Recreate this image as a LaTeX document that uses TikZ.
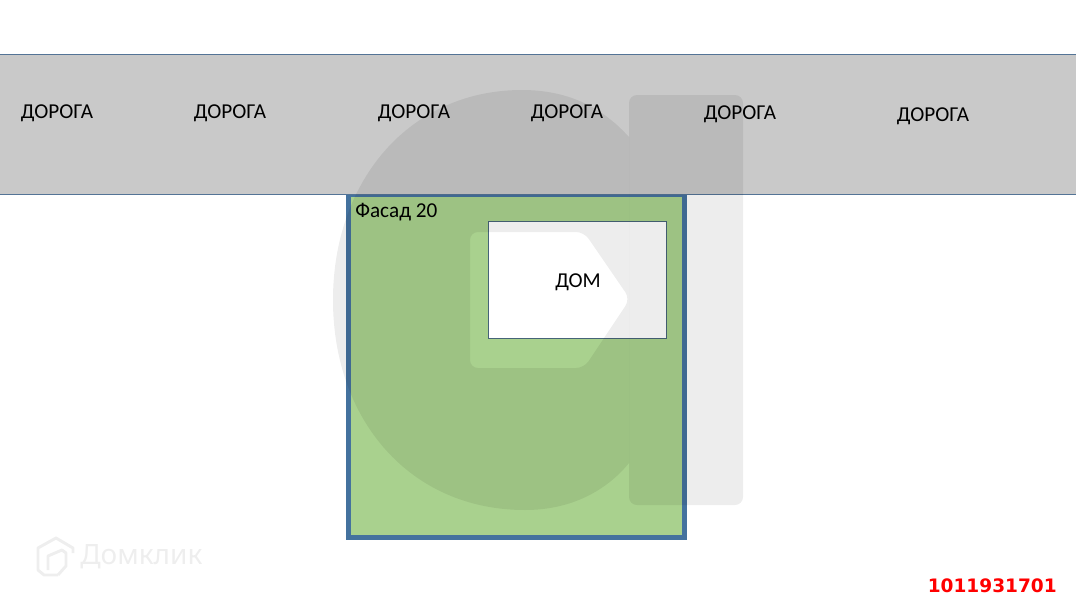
\documentclass[tikz,border=0pt]{standalone}
\usepackage{fontspec}
\setmainfont{Carlito}
\newfontfamily\numfont{DejaVu Sans}
\newfontfamily\logofont{Noto Sans}
\usepackage{xcolor}
\definecolor{roadgray}{RGB}{201,201,201}
\definecolor{roadline}{RGB}{84,116,150}
\definecolor{houseline}{RGB}{70,100,120}
\definecolor{plotgreen}{RGB}{169,209,142}
\definecolor{plotline}{RGB}{68,114,158}
\definecolor{logogray}{RGB}{238,238,238}
\begin{document}
\begin{tikzpicture}[x=0.75pt,y=-0.75pt,
    roadlabel/.style={font=\fontsize{15.9}{18}\selectfont,text=black},
    wmark/.style={fill=black,fill opacity=0.07,even odd rule}]
        \useasboundingbox (0,0) rectangle (1076,601);
        \node[draw=plotline,line width=3.75pt,fill=plotgreen,minimum width=252pt,minimum height=257.6pt,inner sep=0pt] (plot) at (516.5,366.25) {};
        \node[draw=roadline,line width=0.6pt,fill=roadgray,minimum width=813pt,minimum height=105pt,inner sep=0pt] (road) at (538,124) {};
        \node[draw=houseline,line width=0.6pt,fill=white,minimum width=133.8pt,minimum height=87.75pt,inner sep=0pt] (house) at (577.5,279.8) {};
        \fill[wmark] (629,137) .. controls (600,105) and (565,90) .. (522,90)
            .. controls (410,90) and (333,180) .. (333,300)
            .. controls (333,420) and (410,510) .. (525,510)
            .. controls (572,510) and (607,490) .. (629,463) -- cycle
            [rounded corners=6pt] (470,232) -- (584,232) -- (630,299) -- (584,368) -- (470,368) -- cycle;
        \fill[wmark,rounded corners=6pt] (629,95) rectangle (743,505);
        \node[roadlabel] (r1) at (57,113) {ДОРОГА};
        \node[roadlabel] (r2) at (230,113) {ДОРОГА};
        \node[roadlabel] (r3) at (414,113) {ДОРОГА};
        \node[roadlabel] (r4) at (567,113) {ДОРОГА};
        \node[roadlabel] (r5) at (740,114) {ДОРОГА};
        \node[roadlabel] (r6) at (933,116) {ДОРОГА};
        \node[roadlabel] (houselabel) at (578,282) {ДОМ};
        \node[roadlabel,anchor=west,inner sep=0pt] (facade) at (355,212) {Фасад 20};
        \node[font=\numfont\bfseries\fontsize{13.9}{16}\selectfont,text=red,anchor=east,inner sep=0pt] (number) at (1057,586) {1011931701};
        \draw[logogray,line width=2.2pt,line join=round] (73,553) -- (73,548) -- (56,538) -- (38,548) -- (38,570) -- (44,575) -- (58,575);
        \draw[logogray,line width=2.2pt,line join=round] (48,570) -- (48,556) -- (62,550) -- (66,553) -- (66,566) -- (58,575);
        \node[font=\logofont\bfseries\fontsize{21}{24}\selectfont,text=logogray,anchor=west,inner sep=0pt] (logo) at (80,557) {Домклик};
      \end{tikzpicture}
\end{document}
